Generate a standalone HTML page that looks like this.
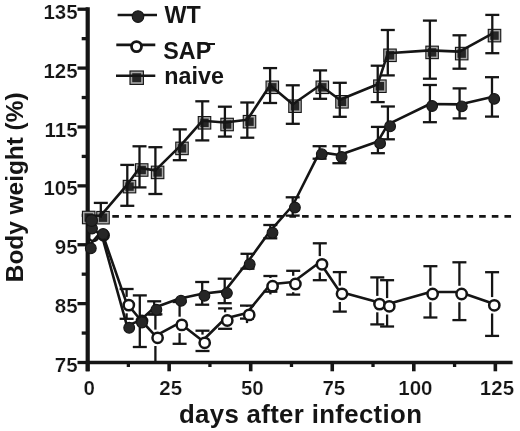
<!DOCTYPE html>
<html><head><meta charset="utf-8"><style>
html,body{margin:0;padding:0;background:#fff;width:520px;height:431px;overflow:hidden}
svg{display:block;will-change:transform}
text{font-family:"Liberation Sans", sans-serif;font-weight:bold;fill:#151515}
.t{stroke:#fff;stroke-width:0.22px}
</style></head><body>
<svg width="520" height="431" viewBox="0 0 520 431">
<line x1="87.7" y1="7.3" x2="87.7" y2="371.3" stroke="#151515" stroke-width="4.2"/>
<line x1="86" y1="362.5" x2="512.6" y2="362.5" stroke="#151515" stroke-width="3.6"/>
<line x1="77.50" y1="362.50" x2="88.00" y2="362.50" stroke="#151515" stroke-width="3.3" />
<line x1="81.70" y1="333.06" x2="88.00" y2="333.06" stroke="#151515" stroke-width="3.3" />
<line x1="77.50" y1="303.62" x2="88.00" y2="303.62" stroke="#151515" stroke-width="3.3" />
<line x1="81.70" y1="274.18" x2="88.00" y2="274.18" stroke="#151515" stroke-width="3.3" />
<line x1="77.50" y1="244.74" x2="88.00" y2="244.74" stroke="#151515" stroke-width="3.3" />
<line x1="81.70" y1="215.30" x2="88.00" y2="215.30" stroke="#151515" stroke-width="3.3" />
<line x1="77.50" y1="185.86" x2="88.00" y2="185.86" stroke="#151515" stroke-width="3.3" />
<line x1="81.70" y1="156.42" x2="88.00" y2="156.42" stroke="#151515" stroke-width="3.3" />
<line x1="77.50" y1="126.98" x2="88.00" y2="126.98" stroke="#151515" stroke-width="3.3" />
<line x1="81.70" y1="97.54" x2="88.00" y2="97.54" stroke="#151515" stroke-width="3.3" />
<line x1="77.50" y1="68.10" x2="88.00" y2="68.10" stroke="#151515" stroke-width="3.3" />
<line x1="81.70" y1="38.66" x2="88.00" y2="38.66" stroke="#151515" stroke-width="3.3" />
<line x1="77.50" y1="9.22" x2="88.00" y2="9.22" stroke="#151515" stroke-width="3.3" />
<line x1="87.60" y1="362.00" x2="87.60" y2="371.30" stroke="#151515" stroke-width="3.6" />
<line x1="128.38" y1="362.00" x2="128.38" y2="367.00" stroke="#151515" stroke-width="3.3" />
<line x1="169.15" y1="362.00" x2="169.15" y2="371.30" stroke="#151515" stroke-width="3.6" />
<line x1="209.93" y1="362.00" x2="209.93" y2="367.00" stroke="#151515" stroke-width="3.3" />
<line x1="250.70" y1="362.00" x2="250.70" y2="371.30" stroke="#151515" stroke-width="3.6" />
<line x1="291.48" y1="362.00" x2="291.48" y2="367.00" stroke="#151515" stroke-width="3.3" />
<line x1="332.25" y1="362.00" x2="332.25" y2="371.30" stroke="#151515" stroke-width="3.6" />
<line x1="373.02" y1="362.00" x2="373.02" y2="367.00" stroke="#151515" stroke-width="3.3" />
<line x1="413.80" y1="362.00" x2="413.80" y2="371.30" stroke="#151515" stroke-width="3.6" />
<line x1="454.58" y1="362.00" x2="454.58" y2="367.00" stroke="#151515" stroke-width="3.3" />
<line x1="495.35" y1="362.00" x2="495.35" y2="371.30" stroke="#151515" stroke-width="3.6" />
<line x1="87" y1="216.4" x2="511.5" y2="216.4" stroke="#151515" stroke-width="2.6" stroke-dasharray="6.6 6.05"/>
<rect x="81.90" y="210.70" width="13.60" height="13.60" fill="#151515"/>
<rect x="83.00" y="211.80" width="11.40" height="11.40" fill="#a8a8a8"/>
<rect x="84.50" y="213.30" width="8.40" height="8.40" fill="#262626"/>
<rect x="96.20" y="210.90" width="13.60" height="13.60" fill="#151515"/>
<rect x="97.30" y="212.00" width="11.40" height="11.40" fill="#a8a8a8"/>
<rect x="98.80" y="213.50" width="8.40" height="8.40" fill="#262626"/>
<rect x="122.70" y="179.80" width="13.60" height="13.60" fill="#151515"/>
<rect x="123.80" y="180.90" width="11.40" height="11.40" fill="#a8a8a8"/>
<rect x="125.30" y="182.40" width="8.40" height="8.40" fill="#262626"/>
<rect x="134.90" y="163.20" width="13.60" height="13.60" fill="#151515"/>
<rect x="136.00" y="164.30" width="11.40" height="11.40" fill="#a8a8a8"/>
<rect x="137.50" y="165.80" width="8.40" height="8.40" fill="#262626"/>
<rect x="150.80" y="165.60" width="13.60" height="13.60" fill="#151515"/>
<rect x="151.90" y="166.70" width="11.40" height="11.40" fill="#a8a8a8"/>
<rect x="153.40" y="168.20" width="8.40" height="8.40" fill="#262626"/>
<rect x="175.20" y="141.60" width="13.60" height="13.60" fill="#151515"/>
<rect x="176.30" y="142.70" width="11.40" height="11.40" fill="#a8a8a8"/>
<rect x="177.80" y="144.20" width="8.40" height="8.40" fill="#262626"/>
<rect x="197.70" y="116.00" width="13.60" height="13.60" fill="#151515"/>
<rect x="198.80" y="117.10" width="11.40" height="11.40" fill="#a8a8a8"/>
<rect x="200.30" y="118.60" width="8.40" height="8.40" fill="#262626"/>
<rect x="220.30" y="117.70" width="13.60" height="13.60" fill="#151515"/>
<rect x="221.40" y="118.80" width="11.40" height="11.40" fill="#a8a8a8"/>
<rect x="222.90" y="120.30" width="8.40" height="8.40" fill="#262626"/>
<rect x="242.70" y="114.90" width="13.60" height="13.60" fill="#151515"/>
<rect x="243.80" y="116.00" width="11.40" height="11.40" fill="#a8a8a8"/>
<rect x="245.30" y="117.50" width="8.40" height="8.40" fill="#262626"/>
<rect x="265.50" y="80.50" width="13.60" height="13.60" fill="#151515"/>
<rect x="266.60" y="81.60" width="11.40" height="11.40" fill="#a8a8a8"/>
<rect x="268.10" y="83.10" width="8.40" height="8.40" fill="#262626"/>
<rect x="288.20" y="99.40" width="13.60" height="13.60" fill="#151515"/>
<rect x="289.30" y="100.50" width="11.40" height="11.40" fill="#a8a8a8"/>
<rect x="290.80" y="102.00" width="8.40" height="8.40" fill="#262626"/>
<rect x="315.50" y="80.50" width="13.60" height="13.60" fill="#151515"/>
<rect x="316.60" y="81.60" width="11.40" height="11.40" fill="#a8a8a8"/>
<rect x="318.10" y="83.10" width="8.40" height="8.40" fill="#262626"/>
<rect x="335.20" y="95.00" width="13.60" height="13.60" fill="#151515"/>
<rect x="336.30" y="96.10" width="11.40" height="11.40" fill="#a8a8a8"/>
<rect x="337.80" y="97.60" width="8.40" height="8.40" fill="#262626"/>
<rect x="373.10" y="79.40" width="13.60" height="13.60" fill="#151515"/>
<rect x="374.20" y="80.50" width="11.40" height="11.40" fill="#a8a8a8"/>
<rect x="375.70" y="82.00" width="8.40" height="8.40" fill="#262626"/>
<rect x="383.20" y="48.50" width="13.60" height="13.60" fill="#151515"/>
<rect x="384.30" y="49.60" width="11.40" height="11.40" fill="#a8a8a8"/>
<rect x="385.80" y="51.10" width="8.40" height="8.40" fill="#262626"/>
<rect x="425.30" y="45.60" width="13.60" height="13.60" fill="#151515"/>
<rect x="426.40" y="46.70" width="11.40" height="11.40" fill="#a8a8a8"/>
<rect x="427.90" y="48.20" width="8.40" height="8.40" fill="#262626"/>
<rect x="454.90" y="46.80" width="13.60" height="13.60" fill="#151515"/>
<rect x="456.00" y="47.90" width="11.40" height="11.40" fill="#a8a8a8"/>
<rect x="457.50" y="49.40" width="8.40" height="8.40" fill="#262626"/>
<rect x="487.70" y="28.80" width="13.60" height="13.60" fill="#151515"/>
<rect x="488.80" y="29.90" width="11.40" height="11.40" fill="#a8a8a8"/>
<rect x="490.30" y="31.40" width="8.40" height="8.40" fill="#262626"/>
<line x1="100.80" y1="217.70" x2="100.80" y2="202.90" stroke="#151515" stroke-width="2.3" />
<line x1="93.80" y1="202.90" x2="107.80" y2="202.90" stroke="#151515" stroke-width="2.3" />
<line x1="127.30" y1="186.60" x2="127.30" y2="164.90" stroke="#151515" stroke-width="2.3" />
<line x1="120.30" y1="164.90" x2="134.30" y2="164.90" stroke="#151515" stroke-width="2.3" />
<line x1="127.30" y1="186.60" x2="127.30" y2="205.80" stroke="#151515" stroke-width="2.3" />
<line x1="120.30" y1="205.80" x2="134.30" y2="205.80" stroke="#151515" stroke-width="2.3" />
<line x1="139.50" y1="170.00" x2="139.50" y2="146.30" stroke="#151515" stroke-width="2.3" />
<line x1="132.50" y1="146.30" x2="146.50" y2="146.30" stroke="#151515" stroke-width="2.3" />
<line x1="139.50" y1="170.00" x2="139.50" y2="187.40" stroke="#151515" stroke-width="2.3" />
<line x1="132.50" y1="187.40" x2="146.50" y2="187.40" stroke="#151515" stroke-width="2.3" />
<line x1="155.40" y1="172.40" x2="155.40" y2="147.20" stroke="#151515" stroke-width="2.3" />
<line x1="148.40" y1="147.20" x2="162.40" y2="147.20" stroke="#151515" stroke-width="2.3" />
<line x1="155.40" y1="172.40" x2="155.40" y2="194.00" stroke="#151515" stroke-width="2.3" />
<line x1="148.40" y1="194.00" x2="162.40" y2="194.00" stroke="#151515" stroke-width="2.3" />
<line x1="179.80" y1="148.40" x2="179.80" y2="129.40" stroke="#151515" stroke-width="2.3" />
<line x1="172.80" y1="129.40" x2="186.80" y2="129.40" stroke="#151515" stroke-width="2.3" />
<line x1="179.80" y1="148.40" x2="179.80" y2="160.20" stroke="#151515" stroke-width="2.3" />
<line x1="172.80" y1="160.20" x2="186.80" y2="160.20" stroke="#151515" stroke-width="2.3" />
<line x1="202.30" y1="122.80" x2="202.30" y2="101.30" stroke="#151515" stroke-width="2.3" />
<line x1="195.30" y1="101.30" x2="209.30" y2="101.30" stroke="#151515" stroke-width="2.3" />
<line x1="202.30" y1="122.80" x2="202.30" y2="140.40" stroke="#151515" stroke-width="2.3" />
<line x1="195.30" y1="140.40" x2="209.30" y2="140.40" stroke="#151515" stroke-width="2.3" />
<line x1="224.90" y1="124.50" x2="224.90" y2="106.70" stroke="#151515" stroke-width="2.3" />
<line x1="217.90" y1="106.70" x2="231.90" y2="106.70" stroke="#151515" stroke-width="2.3" />
<line x1="224.90" y1="124.50" x2="224.90" y2="136.60" stroke="#151515" stroke-width="2.3" />
<line x1="217.90" y1="136.60" x2="231.90" y2="136.60" stroke="#151515" stroke-width="2.3" />
<line x1="247.30" y1="121.70" x2="247.30" y2="102.50" stroke="#151515" stroke-width="2.3" />
<line x1="240.30" y1="102.50" x2="254.30" y2="102.50" stroke="#151515" stroke-width="2.3" />
<line x1="247.30" y1="121.70" x2="247.30" y2="137.70" stroke="#151515" stroke-width="2.3" />
<line x1="240.30" y1="137.70" x2="254.30" y2="137.70" stroke="#151515" stroke-width="2.3" />
<line x1="270.10" y1="87.30" x2="270.10" y2="68.10" stroke="#151515" stroke-width="2.3" />
<line x1="263.10" y1="68.10" x2="277.10" y2="68.10" stroke="#151515" stroke-width="2.3" />
<line x1="270.10" y1="87.30" x2="270.10" y2="103.00" stroke="#151515" stroke-width="2.3" />
<line x1="263.10" y1="103.00" x2="277.10" y2="103.00" stroke="#151515" stroke-width="2.3" />
<line x1="292.80" y1="106.20" x2="292.80" y2="85.30" stroke="#151515" stroke-width="2.3" />
<line x1="285.80" y1="85.30" x2="299.80" y2="85.30" stroke="#151515" stroke-width="2.3" />
<line x1="292.80" y1="106.20" x2="292.80" y2="123.80" stroke="#151515" stroke-width="2.3" />
<line x1="285.80" y1="123.80" x2="299.80" y2="123.80" stroke="#151515" stroke-width="2.3" />
<line x1="320.10" y1="87.30" x2="320.10" y2="70.40" stroke="#151515" stroke-width="2.3" />
<line x1="313.10" y1="70.40" x2="327.10" y2="70.40" stroke="#151515" stroke-width="2.3" />
<line x1="320.10" y1="87.30" x2="320.10" y2="98.80" stroke="#151515" stroke-width="2.3" />
<line x1="313.10" y1="98.80" x2="327.10" y2="98.80" stroke="#151515" stroke-width="2.3" />
<line x1="339.80" y1="101.80" x2="339.80" y2="82.80" stroke="#151515" stroke-width="2.3" />
<line x1="332.80" y1="82.80" x2="346.80" y2="82.80" stroke="#151515" stroke-width="2.3" />
<line x1="339.80" y1="101.80" x2="339.80" y2="116.80" stroke="#151515" stroke-width="2.3" />
<line x1="332.80" y1="116.80" x2="346.80" y2="116.80" stroke="#151515" stroke-width="2.3" />
<line x1="377.70" y1="86.20" x2="377.70" y2="65.70" stroke="#151515" stroke-width="2.3" />
<line x1="370.70" y1="65.70" x2="384.70" y2="65.70" stroke="#151515" stroke-width="2.3" />
<line x1="377.70" y1="86.20" x2="377.70" y2="102.10" stroke="#151515" stroke-width="2.3" />
<line x1="370.70" y1="102.10" x2="384.70" y2="102.10" stroke="#151515" stroke-width="2.3" />
<line x1="387.80" y1="55.30" x2="387.80" y2="30.00" stroke="#151515" stroke-width="2.3" />
<line x1="380.80" y1="30.00" x2="394.80" y2="30.00" stroke="#151515" stroke-width="2.3" />
<line x1="387.80" y1="55.30" x2="387.80" y2="75.40" stroke="#151515" stroke-width="2.3" />
<line x1="380.80" y1="75.40" x2="394.80" y2="75.40" stroke="#151515" stroke-width="2.3" />
<line x1="429.90" y1="52.40" x2="429.90" y2="20.60" stroke="#151515" stroke-width="2.3" />
<line x1="422.90" y1="20.60" x2="436.90" y2="20.60" stroke="#151515" stroke-width="2.3" />
<line x1="429.90" y1="52.40" x2="429.90" y2="78.70" stroke="#151515" stroke-width="2.3" />
<line x1="422.90" y1="78.70" x2="436.90" y2="78.70" stroke="#151515" stroke-width="2.3" />
<line x1="459.50" y1="53.60" x2="459.50" y2="35.30" stroke="#151515" stroke-width="2.3" />
<line x1="452.50" y1="35.30" x2="466.50" y2="35.30" stroke="#151515" stroke-width="2.3" />
<line x1="459.50" y1="53.60" x2="459.50" y2="68.70" stroke="#151515" stroke-width="2.3" />
<line x1="452.50" y1="68.70" x2="466.50" y2="68.70" stroke="#151515" stroke-width="2.3" />
<line x1="492.30" y1="35.60" x2="492.30" y2="14.90" stroke="#151515" stroke-width="2.3" />
<line x1="485.30" y1="14.90" x2="499.30" y2="14.90" stroke="#151515" stroke-width="2.3" />
<line x1="492.30" y1="35.60" x2="492.30" y2="53.20" stroke="#151515" stroke-width="2.3" />
<line x1="485.30" y1="53.20" x2="499.30" y2="53.20" stroke="#151515" stroke-width="2.3" />
<polyline points="86.50,215.50 100.80,215.70 127.30,184.60 139.50,168.00 155.40,170.40 179.80,146.40 202.30,120.80 224.90,122.50 247.30,119.70 270.10,85.30 292.80,104.20 320.10,85.30 339.80,99.80 377.70,84.20 387.80,53.30 429.90,50.40 459.50,51.60 492.30,33.60" fill="none" stroke="#151515" stroke-width="2.6" stroke-linejoin="round"/>
<line x1="126.60" y1="296.90" x2="126.60" y2="289.00" stroke="#151515" stroke-width="2.3" />
<line x1="119.60" y1="289.00" x2="133.60" y2="289.00" stroke="#151515" stroke-width="2.3" />
<line x1="126.60" y1="313.30" x2="126.60" y2="318.80" stroke="#151515" stroke-width="2.3" />
<line x1="119.60" y1="318.80" x2="133.60" y2="318.80" stroke="#151515" stroke-width="2.3" />
<line x1="155.40" y1="329.60" x2="155.40" y2="314.30" stroke="#151515" stroke-width="2.3" />
<line x1="148.40" y1="314.30" x2="162.40" y2="314.30" stroke="#151515" stroke-width="2.3" />
<line x1="155.40" y1="346.00" x2="155.40" y2="361.00" stroke="#151515" stroke-width="2.3" />
<line x1="179.60" y1="316.70" x2="179.60" y2="302.00" stroke="#151515" stroke-width="2.3" />
<line x1="172.60" y1="302.00" x2="186.60" y2="302.00" stroke="#151515" stroke-width="2.3" />
<line x1="179.60" y1="333.10" x2="179.60" y2="343.80" stroke="#151515" stroke-width="2.3" />
<line x1="172.60" y1="343.80" x2="186.60" y2="343.80" stroke="#151515" stroke-width="2.3" />
<line x1="202.50" y1="334.60" x2="202.50" y2="330.70" stroke="#151515" stroke-width="2.3" />
<line x1="195.50" y1="330.70" x2="209.50" y2="330.70" stroke="#151515" stroke-width="2.3" />
<line x1="202.50" y1="351.00" x2="202.50" y2="351.00" stroke="#151515" stroke-width="2.3" />
<line x1="195.50" y1="351.00" x2="209.50" y2="351.00" stroke="#151515" stroke-width="2.3" />
<line x1="225.10" y1="312.30" x2="225.10" y2="308.40" stroke="#151515" stroke-width="2.3" />
<line x1="218.10" y1="308.40" x2="232.10" y2="308.40" stroke="#151515" stroke-width="2.3" />
<line x1="225.10" y1="328.70" x2="225.10" y2="328.80" stroke="#151515" stroke-width="2.3" />
<line x1="218.10" y1="328.80" x2="232.10" y2="328.80" stroke="#151515" stroke-width="2.3" />
<line x1="247.00" y1="306.70" x2="247.00" y2="305.60" stroke="#151515" stroke-width="2.3" />
<line x1="240.00" y1="305.60" x2="254.00" y2="305.60" stroke="#151515" stroke-width="2.3" />
<line x1="247.00" y1="323.10" x2="247.00" y2="318.60" stroke="#151515" stroke-width="2.3" />
<line x1="240.00" y1="318.60" x2="254.00" y2="318.60" stroke="#151515" stroke-width="2.3" />
<line x1="270.40" y1="278.00" x2="270.40" y2="276.00" stroke="#151515" stroke-width="2.3" />
<line x1="263.40" y1="276.00" x2="277.40" y2="276.00" stroke="#151515" stroke-width="2.3" />
<line x1="270.40" y1="294.40" x2="270.40" y2="291.70" stroke="#151515" stroke-width="2.3" />
<line x1="263.40" y1="291.70" x2="277.40" y2="291.70" stroke="#151515" stroke-width="2.3" />
<line x1="293.20" y1="275.80" x2="293.20" y2="270.80" stroke="#151515" stroke-width="2.3" />
<line x1="286.20" y1="270.80" x2="300.20" y2="270.80" stroke="#151515" stroke-width="2.3" />
<line x1="293.20" y1="292.20" x2="293.20" y2="294.60" stroke="#151515" stroke-width="2.3" />
<line x1="286.20" y1="294.60" x2="300.20" y2="294.60" stroke="#151515" stroke-width="2.3" />
<line x1="319.80" y1="256.10" x2="319.80" y2="243.30" stroke="#151515" stroke-width="2.3" />
<line x1="312.80" y1="243.30" x2="326.80" y2="243.30" stroke="#151515" stroke-width="2.3" />
<line x1="319.80" y1="272.50" x2="319.80" y2="280.20" stroke="#151515" stroke-width="2.3" />
<line x1="312.80" y1="280.20" x2="326.80" y2="280.20" stroke="#151515" stroke-width="2.3" />
<line x1="339.80" y1="285.60" x2="339.80" y2="272.10" stroke="#151515" stroke-width="2.3" />
<line x1="332.80" y1="272.10" x2="346.80" y2="272.10" stroke="#151515" stroke-width="2.3" />
<line x1="339.80" y1="302.00" x2="339.80" y2="311.60" stroke="#151515" stroke-width="2.3" />
<line x1="332.80" y1="311.60" x2="346.80" y2="311.60" stroke="#151515" stroke-width="2.3" />
<line x1="377.30" y1="295.90" x2="377.30" y2="277.40" stroke="#151515" stroke-width="2.3" />
<line x1="370.30" y1="277.40" x2="384.30" y2="277.40" stroke="#151515" stroke-width="2.3" />
<line x1="377.30" y1="312.30" x2="377.30" y2="324.40" stroke="#151515" stroke-width="2.3" />
<line x1="370.30" y1="324.40" x2="384.30" y2="324.40" stroke="#151515" stroke-width="2.3" />
<line x1="387.10" y1="298.10" x2="387.10" y2="280.20" stroke="#151515" stroke-width="2.3" />
<line x1="380.10" y1="280.20" x2="394.10" y2="280.20" stroke="#151515" stroke-width="2.3" />
<line x1="387.10" y1="314.50" x2="387.10" y2="326.50" stroke="#151515" stroke-width="2.3" />
<line x1="380.10" y1="326.50" x2="394.10" y2="326.50" stroke="#151515" stroke-width="2.3" />
<line x1="430.40" y1="285.80" x2="430.40" y2="266.20" stroke="#151515" stroke-width="2.3" />
<line x1="423.40" y1="266.20" x2="437.40" y2="266.20" stroke="#151515" stroke-width="2.3" />
<line x1="430.40" y1="302.20" x2="430.40" y2="317.50" stroke="#151515" stroke-width="2.3" />
<line x1="423.40" y1="317.50" x2="437.40" y2="317.50" stroke="#151515" stroke-width="2.3" />
<line x1="459.40" y1="285.80" x2="459.40" y2="262.30" stroke="#151515" stroke-width="2.3" />
<line x1="452.40" y1="262.30" x2="466.40" y2="262.30" stroke="#151515" stroke-width="2.3" />
<line x1="459.40" y1="302.20" x2="459.40" y2="320.10" stroke="#151515" stroke-width="2.3" />
<line x1="452.40" y1="320.10" x2="466.40" y2="320.10" stroke="#151515" stroke-width="2.3" />
<line x1="492.10" y1="297.10" x2="492.10" y2="272.20" stroke="#151515" stroke-width="2.3" />
<line x1="485.10" y1="272.20" x2="499.10" y2="272.20" stroke="#151515" stroke-width="2.3" />
<line x1="492.10" y1="313.50" x2="492.10" y2="335.90" stroke="#151515" stroke-width="2.3" />
<line x1="485.10" y1="335.90" x2="499.10" y2="335.90" stroke="#151515" stroke-width="2.3" />
<polyline points="91.30,233.80 103.30,236.30 126.60,303.10 139.80,319.00 155.40,335.80 179.60,322.90 202.50,340.80 225.10,318.50 247.00,312.90 270.40,284.20 293.20,282.00 319.80,262.30 339.80,291.80 377.30,302.10 387.10,304.30 430.40,292.00 459.40,292.00 492.10,303.30" fill="none" stroke="#151515" stroke-width="2.6" stroke-linejoin="round"/>
<circle cx="93.5" cy="235.8" r="5.15" fill="#fff" stroke="#151515" stroke-width="2.5"/>
<circle cx="103.6" cy="235.2" r="5.15" fill="#fff" stroke="#151515" stroke-width="2.5"/>
<circle cx="128.8" cy="305.1" r="5.15" fill="#fff" stroke="#151515" stroke-width="2.5"/>
<circle cx="142" cy="321" r="5.15" fill="#fff" stroke="#151515" stroke-width="2.5"/>
<circle cx="157.6" cy="337.8" r="5.15" fill="#fff" stroke="#151515" stroke-width="2.5"/>
<circle cx="181.8" cy="324.9" r="5.15" fill="#fff" stroke="#151515" stroke-width="2.5"/>
<circle cx="204.7" cy="342.8" r="5.15" fill="#fff" stroke="#151515" stroke-width="2.5"/>
<circle cx="227.3" cy="320.5" r="5.15" fill="#fff" stroke="#151515" stroke-width="2.5"/>
<circle cx="249.2" cy="314.9" r="5.15" fill="#fff" stroke="#151515" stroke-width="2.5"/>
<circle cx="272.6" cy="286.2" r="5.15" fill="#fff" stroke="#151515" stroke-width="2.5"/>
<circle cx="295.4" cy="284" r="5.15" fill="#fff" stroke="#151515" stroke-width="2.5"/>
<circle cx="322" cy="264.3" r="5.15" fill="#fff" stroke="#151515" stroke-width="2.5"/>
<circle cx="342" cy="293.8" r="5.15" fill="#fff" stroke="#151515" stroke-width="2.5"/>
<circle cx="379.5" cy="304.1" r="5.15" fill="#fff" stroke="#151515" stroke-width="2.5"/>
<circle cx="389.3" cy="306.3" r="5.15" fill="#fff" stroke="#151515" stroke-width="2.5"/>
<circle cx="432.6" cy="294" r="5.15" fill="#fff" stroke="#151515" stroke-width="2.5"/>
<circle cx="461.6" cy="294" r="5.15" fill="#fff" stroke="#151515" stroke-width="2.5"/>
<circle cx="494.3" cy="305.3" r="5.15" fill="#fff" stroke="#151515" stroke-width="2.5"/>
<line x1="139.80" y1="322.60" x2="139.80" y2="295.40" stroke="#151515" stroke-width="2.3" />
<line x1="132.80" y1="295.40" x2="146.80" y2="295.40" stroke="#151515" stroke-width="2.3" />
<line x1="139.80" y1="322.60" x2="139.80" y2="347.00" stroke="#151515" stroke-width="2.3" />
<line x1="132.80" y1="347.00" x2="146.80" y2="347.00" stroke="#151515" stroke-width="2.3" />
<line x1="154.20" y1="309.80" x2="154.20" y2="301.30" stroke="#151515" stroke-width="2.3" />
<line x1="147.20" y1="301.30" x2="161.20" y2="301.30" stroke="#151515" stroke-width="2.3" />
<line x1="154.20" y1="309.80" x2="154.20" y2="314.50" stroke="#151515" stroke-width="2.3" />
<line x1="147.20" y1="314.50" x2="161.20" y2="314.50" stroke="#151515" stroke-width="2.3" />
<line x1="202.20" y1="295.80" x2="202.20" y2="282.00" stroke="#151515" stroke-width="2.3" />
<line x1="195.20" y1="282.00" x2="209.20" y2="282.00" stroke="#151515" stroke-width="2.3" />
<line x1="202.20" y1="295.80" x2="202.20" y2="304.70" stroke="#151515" stroke-width="2.3" />
<line x1="195.20" y1="304.70" x2="209.20" y2="304.70" stroke="#151515" stroke-width="2.3" />
<line x1="224.70" y1="293.10" x2="224.70" y2="278.70" stroke="#151515" stroke-width="2.3" />
<line x1="217.70" y1="278.70" x2="231.70" y2="278.70" stroke="#151515" stroke-width="2.3" />
<line x1="224.70" y1="293.10" x2="224.70" y2="303.20" stroke="#151515" stroke-width="2.3" />
<line x1="217.70" y1="303.20" x2="231.70" y2="303.20" stroke="#151515" stroke-width="2.3" />
<line x1="247.50" y1="264.30" x2="247.50" y2="253.80" stroke="#151515" stroke-width="2.3" />
<line x1="240.50" y1="253.80" x2="254.50" y2="253.80" stroke="#151515" stroke-width="2.3" />
<line x1="247.50" y1="264.30" x2="247.50" y2="268.70" stroke="#151515" stroke-width="2.3" />
<line x1="240.50" y1="268.70" x2="254.50" y2="268.70" stroke="#151515" stroke-width="2.3" />
<line x1="270.30" y1="232.80" x2="270.30" y2="225.00" stroke="#151515" stroke-width="2.3" />
<line x1="263.30" y1="225.00" x2="277.30" y2="225.00" stroke="#151515" stroke-width="2.3" />
<line x1="270.30" y1="232.80" x2="270.30" y2="238.30" stroke="#151515" stroke-width="2.3" />
<line x1="263.30" y1="238.30" x2="277.30" y2="238.30" stroke="#151515" stroke-width="2.3" />
<line x1="292.70" y1="207.50" x2="292.70" y2="197.30" stroke="#151515" stroke-width="2.3" />
<line x1="285.70" y1="197.30" x2="299.70" y2="197.30" stroke="#151515" stroke-width="2.3" />
<line x1="292.70" y1="207.50" x2="292.70" y2="215.60" stroke="#151515" stroke-width="2.3" />
<line x1="285.70" y1="215.60" x2="299.70" y2="215.60" stroke="#151515" stroke-width="2.3" />
<line x1="319.60" y1="154.10" x2="319.60" y2="146.20" stroke="#151515" stroke-width="2.3" />
<line x1="312.60" y1="146.20" x2="326.60" y2="146.20" stroke="#151515" stroke-width="2.3" />
<line x1="319.60" y1="154.10" x2="319.60" y2="158.70" stroke="#151515" stroke-width="2.3" />
<line x1="312.60" y1="158.70" x2="326.60" y2="158.70" stroke="#151515" stroke-width="2.3" />
<line x1="339.40" y1="157.00" x2="339.40" y2="146.20" stroke="#151515" stroke-width="2.3" />
<line x1="332.40" y1="146.20" x2="346.40" y2="146.20" stroke="#151515" stroke-width="2.3" />
<line x1="339.40" y1="157.00" x2="339.40" y2="163.20" stroke="#151515" stroke-width="2.3" />
<line x1="332.40" y1="163.20" x2="346.40" y2="163.20" stroke="#151515" stroke-width="2.3" />
<line x1="377.90" y1="143.40" x2="377.90" y2="126.90" stroke="#151515" stroke-width="2.3" />
<line x1="370.90" y1="126.90" x2="384.90" y2="126.90" stroke="#151515" stroke-width="2.3" />
<line x1="377.90" y1="143.40" x2="377.90" y2="153.20" stroke="#151515" stroke-width="2.3" />
<line x1="370.90" y1="153.20" x2="384.90" y2="153.20" stroke="#151515" stroke-width="2.3" />
<line x1="387.90" y1="126.30" x2="387.90" y2="106.50" stroke="#151515" stroke-width="2.3" />
<line x1="380.90" y1="106.50" x2="394.90" y2="106.50" stroke="#151515" stroke-width="2.3" />
<line x1="387.90" y1="126.30" x2="387.90" y2="139.30" stroke="#151515" stroke-width="2.3" />
<line x1="380.90" y1="139.30" x2="394.90" y2="139.30" stroke="#151515" stroke-width="2.3" />
<line x1="429.90" y1="106.00" x2="429.90" y2="85.00" stroke="#151515" stroke-width="2.3" />
<line x1="422.90" y1="85.00" x2="436.90" y2="85.00" stroke="#151515" stroke-width="2.3" />
<line x1="429.90" y1="106.00" x2="429.90" y2="122.20" stroke="#151515" stroke-width="2.3" />
<line x1="422.90" y1="122.20" x2="436.90" y2="122.20" stroke="#151515" stroke-width="2.3" />
<line x1="459.60" y1="106.40" x2="459.60" y2="88.40" stroke="#151515" stroke-width="2.3" />
<line x1="452.60" y1="88.40" x2="466.60" y2="88.40" stroke="#151515" stroke-width="2.3" />
<line x1="459.60" y1="106.40" x2="459.60" y2="118.40" stroke="#151515" stroke-width="2.3" />
<line x1="452.60" y1="118.40" x2="466.60" y2="118.40" stroke="#151515" stroke-width="2.3" />
<line x1="492.00" y1="98.90" x2="492.00" y2="77.20" stroke="#151515" stroke-width="2.3" />
<line x1="485.00" y1="77.20" x2="499.00" y2="77.20" stroke="#151515" stroke-width="2.3" />
<line x1="492.00" y1="98.90" x2="492.00" y2="116.60" stroke="#151515" stroke-width="2.3" />
<line x1="485.00" y1="116.60" x2="499.00" y2="116.60" stroke="#151515" stroke-width="2.3" />
<polyline points="89.80,226.50 88.60,246.30 100.90,232.00 127.00,325.80 139.80,320.60 154.20,307.80 178.80,298.80 202.20,293.80 224.70,291.10 247.50,262.30 270.30,230.80 292.70,205.50 319.60,152.10 339.40,155.00 377.90,141.40 387.90,124.30 429.90,104.00 459.60,104.40 492.00,96.90" fill="none" stroke="#151515" stroke-width="2.6" stroke-linejoin="round"/>
<circle cx="92" cy="228.5" r="5.4" fill="#262626" stroke="#151515" stroke-width="1.1"/>
<circle cx="90.8" cy="248.3" r="5.4" fill="#262626" stroke="#151515" stroke-width="1.1"/>
<circle cx="103.1" cy="234" r="5.4" fill="#262626" stroke="#151515" stroke-width="1.1"/>
<circle cx="129.2" cy="327.8" r="5.4" fill="#262626" stroke="#151515" stroke-width="1.1"/>
<circle cx="142" cy="322.6" r="5.4" fill="#262626" stroke="#151515" stroke-width="1.1"/>
<circle cx="156.4" cy="309.8" r="5.4" fill="#262626" stroke="#151515" stroke-width="1.1"/>
<circle cx="181.0" cy="300.8" r="5.4" fill="#262626" stroke="#151515" stroke-width="1.1"/>
<circle cx="204.4" cy="295.8" r="5.4" fill="#262626" stroke="#151515" stroke-width="1.1"/>
<circle cx="226.9" cy="293.1" r="5.4" fill="#262626" stroke="#151515" stroke-width="1.1"/>
<circle cx="249.7" cy="264.3" r="5.4" fill="#262626" stroke="#151515" stroke-width="1.1"/>
<circle cx="272.5" cy="232.8" r="5.4" fill="#262626" stroke="#151515" stroke-width="1.1"/>
<circle cx="294.9" cy="207.5" r="5.4" fill="#262626" stroke="#151515" stroke-width="1.1"/>
<circle cx="321.8" cy="154.1" r="5.4" fill="#262626" stroke="#151515" stroke-width="1.1"/>
<circle cx="341.6" cy="157" r="5.4" fill="#262626" stroke="#151515" stroke-width="1.1"/>
<circle cx="380.1" cy="143.4" r="5.4" fill="#262626" stroke="#151515" stroke-width="1.1"/>
<circle cx="390.1" cy="126.3" r="5.4" fill="#262626" stroke="#151515" stroke-width="1.1"/>
<circle cx="432.1" cy="106" r="5.4" fill="#262626" stroke="#151515" stroke-width="1.1"/>
<circle cx="461.8" cy="106.4" r="5.4" fill="#262626" stroke="#151515" stroke-width="1.1"/>
<circle cx="494.2" cy="98.9" r="5.4" fill="#262626" stroke="#151515" stroke-width="1.1"/>
<circle cx="91.6" cy="220.5" r="5.9" fill="#262626" stroke="#151515" stroke-width="1.1"/>
<line x1="117.60" y1="15.00" x2="157.00" y2="15.00" stroke="#151515" stroke-width="2.6" />
<circle cx="138" cy="16.6" r="5.8" fill="#262626" stroke="#151515" stroke-width="1.1"/>
<line x1="116.30" y1="44.90" x2="155.30" y2="44.90" stroke="#151515" stroke-width="2.6" />
<circle cx="136.5" cy="46.6" r="5.0" fill="#fff" stroke="#151515" stroke-width="2.8"/>
<rect x="129.42" y="70.42" width="14.55" height="14.55" fill="#151515"/>
<rect x="130.60" y="71.60" width="12.20" height="12.20" fill="#a8a8a8"/>
<rect x="132.21" y="73.21" width="8.99" height="8.99" fill="#262626"/>
<line x1="116.00" y1="75.80" x2="155.30" y2="75.80" stroke="#151515" stroke-width="2.6" />
<text x="77.6" y="372.10" text-anchor="end" font-size="20.5" class="t">75</text>
<text x="77.6" y="313.22" text-anchor="end" font-size="20.5" class="t">85</text>
<text x="77.6" y="254.34" text-anchor="end" font-size="20.5" class="t">95</text>
<text x="77.6" y="195.46" text-anchor="end" font-size="20.5" class="t">105</text>
<text x="77.6" y="136.58" text-anchor="end" font-size="20.5" class="t">115</text>
<text x="77.6" y="77.70" text-anchor="end" font-size="20.5" class="t">125</text>
<text x="77.6" y="18.82" text-anchor="end" font-size="20.5" class="t">135</text>
<text x="89.20" y="394.8" text-anchor="middle" font-size="20.5" class="t">0</text>
<text x="170.75" y="394.8" text-anchor="middle" font-size="20.5" class="t">25</text>
<text x="252.30" y="394.8" text-anchor="middle" font-size="20.5" class="t">50</text>
<text x="333.85" y="394.8" text-anchor="middle" font-size="20.5" class="t">75</text>
<text x="415.40" y="394.8" text-anchor="middle" font-size="20.5" class="t">100</text>
<text x="496.95" y="394.8" text-anchor="middle" font-size="20.5" class="t">125</text>
<text x="178.9" y="422.6" font-size="25.8" textLength="243" lengthAdjust="spacing">days after infection</text>
<text transform="translate(23.3,187.3) rotate(-90)" text-anchor="middle" font-size="24.4">Body weight (%)</text>
<text x="164.5" y="22.9" font-size="23.3">WT</text>
<text x="163.3" y="58.7" font-size="23.3">SAP</text>
<line x1="208" y1="44" x2="215" y2="44" stroke="#151515" stroke-width="2"/>
<text x="164.3" y="83.8" font-size="23.3">naive</text>
</svg>
</body></html>
